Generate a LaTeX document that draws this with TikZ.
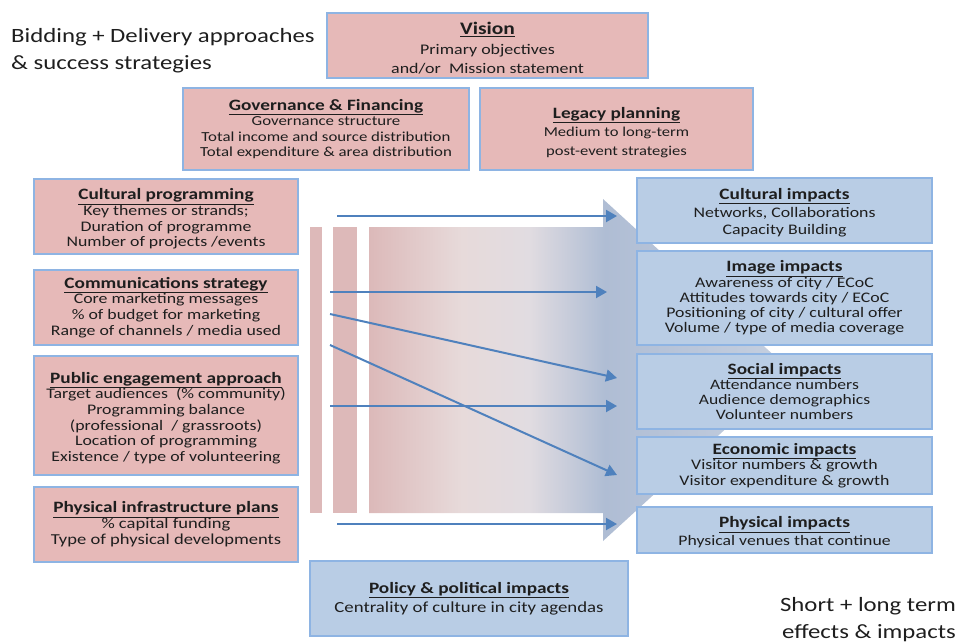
\documentclass[tikz,border=0pt]{standalone}
\usepackage{fontspec}
\setmainfont{Carlito}[FakeStretch=1.22]
\usetikzlibrary{arrows.meta}
\definecolor{pinkfill}{HTML}{E6B9B8}
\definecolor{bluefill}{HTML}{B9CDE5}
\definecolor{boxedge}{HTML}{8EB4E3}
\definecolor{arrowblue}{HTML}{4F81BD}
\definecolor{txt}{HTML}{1E1E1E}
\definecolor{barpink}{HTML}{DDB9B9}
\definecolor{c0}{HTML}{DCB9B9}
\definecolor{c1}{HTML}{E7DADA}
\definecolor{c2}{HTML}{E1DCE1}
\definecolor{c3}{HTML}{AFBDD4}
\definecolor{c4}{HTML}{C6D0E0}
\pgfdeclarehorizontalshading{flowshade}{100bp}{color(0bp)=(c0); color(25bp)=(c0); color(36bp)=(c1); color(44bp)=(c2); color(53bp)=(c3); color(75bp)=(c4); color(100bp)=(c4)}
\newcommand\boxtitle[1]{{\fontsize{15.8}{15}\selectfont\textbf{\underline{#1}}}}
\newcommand\boxfont[2]{\fontsize{#1}{#2}\selectfont}
\newcommand\lowerby[1]{\rule{0pt}{#1}}
\tikzset{
  box/.style={draw=boxedge, line width=1.4pt, inner sep=0pt, align=center, text=txt},
  pinkbox/.style={box, fill=pinkfill},
  bluebox/.style={box, fill=bluefill},
  leftcol/.style={pinkbox, minimum width=264pt},
  rightcol/.style={bluebox, minimum width=295pt},
  flow/.style={draw=arrowblue, line width=2pt, -{Triangle[length=11pt,width=12pt]}},
  bigtext/.style={inner sep=0pt, text=txt, font=\fontsize{20.3}{27}\selectfont}
}
\begin{document}
\begin{tikzpicture}[x=1pt,y=-1pt]
\useasboundingbox (0,0) rectangle (963,642);

% central flow graphic
\fill[barpink] (310,227) rectangle (322,513);
\fill[barpink] (333,227) rectangle (357,513);
\shade[shading=flowshade] (369,227) -- (603,227) -- (603,199) -- (790,370) -- (603,541) -- (603,513) -- (369,513) -- cycle;

% titles
\node[bigtext, anchor=north west, align=left] (lefttitle) at (11,28) {Bidding + Delivery approaches\\\& success strategies};
\node[bigtext, anchor=south east, align=right] (righttitle) at (956,641.5) {Short + long term\\effects \& impacts};

% top boxes
\node[pinkbox, minimum width=321pt, minimum height=65pt, font=\boxfont{14.7}{19.5}] (vision) at (487.5,45.5)
  {\lowerby{18.5pt}{\fontsize{17.6}{19.5}\selectfont\textbf{\underline{Vision}}}\\Primary objectives\\and/or\ \ Mission statement};
\node[pinkbox, minimum width=286pt, minimum height=82pt, font=\boxfont{13.8}{15.3}] (gov) at (326,129)
  {\boxtitle{Governance \& Financing}\\Governance structure\\Total income and source distribution\\Total expenditure \& area distribution};
\node[pinkbox, minimum width=273pt, minimum height=82pt, font=\boxfont{13.6}{18.5}] (legacy) at (616.5,129)
  {\lowerby{18pt}\boxtitle{Legacy planning}\\Medium to long-term\\post-event strategies};

% left column
\node[leftcol, minimum height=75pt, font=\boxfont{14.6}{15.7}] (cultprog) at (166,216.5)
  {\lowerby{16pt}\boxtitle{Cultural programming}\\Key themes or strands;\\Duration of programme\\Number of projects /events};
\node[leftcol, minimum height=75pt, font=\boxfont{14.6}{15.7}] (comms) at (166,307.5)
  {\boxtitle{Communications strategy}\\Core marketing messages\\\% of budget for marketing\\Range of channels / media used};
\node[leftcol, minimum height=119pt, font=\boxfont{14.6}{15.6}] (public) at (166,415.5)
  {\lowerby{16pt}\boxtitle{Public engagement approach}\\Target audiences\ \ (\% community)\\Programming balance\\(professional\ \ / grassroots)\\Location of programming\\Existence / type of volunteering};
\node[leftcol, minimum height=75pt, font=\boxfont{15.2}{16}] (infra) at (166,524.5)
  {\boxtitle{Physical infrastructure plans}\\\% capital funding\\Type of physical developments};

% right column
\node[rightcol, minimum height=65pt, font=\boxfont{14.6}{17.5}] (cultimp) at (784.5,210.5)
  {\lowerby{16pt}\boxtitle{Cultural impacts}\\Networks, Collaborations\\Capacity Building};
\node[rightcol, minimum height=94pt, font=\boxfont{14.6}{15.25}] (image) at (784.5,298)
  {\boxtitle{Image impacts}\\Awareness of city / ECoC\\Attitudes towards city / ECoC\\Positioning of city / cultural offer\\Volume / type of media coverage};
\node[rightcol, minimum height=75pt, font=\boxfont{14.4}{15.3}] (social) at (784.5,391.5)
  {\boxtitle{Social impacts}\\Attendance numbers\\Audience demographics\\Volunteer numbers};
\node[rightcol, minimum height=57pt, font=\boxfont{14.6}{15.5}] (econ) at (784.5,465.5)
  {\boxtitle{Economic impacts}\\Visitor numbers \& growth\\Visitor expenditure \& growth};
\node[rightcol, minimum height=46pt, font=\boxfont{14.5}{18}] (physimp) at (784.5,530)
  {\lowerby{16pt}\boxtitle{Physical impacts}\\Physical venues that continue};

% bottom box
\node[bluebox, minimum width=318pt, minimum height=75pt, font=\boxfont{15.4}{19}] (policy) at (469,598.5)
  {\boxtitle{Policy \& political impacts}\\Centrality of culture in city agendas};

% arrows
\coordinate (a1s) at (337,216); \coordinate (a1e) at (617,216);
\coordinate (a2s) at (330,292); \coordinate (a2e) at (607,292);
\coordinate (a3s) at (330,314); \coordinate (a3e) at (617,378);
\coordinate (a4s) at (330,345); \coordinate (a4e) at (617,475);
\coordinate (a5s) at (330,406); \coordinate (a5e) at (617,406);
\coordinate (a6s) at (337,524); \coordinate (a6e) at (617,524);
\draw[flow] (a1s) -- (a1e);
\draw[flow] (a2s) -- (a2e);
\draw[flow] (a3s) -- (a3e);
\draw[flow] (a4s) -- (a4e);
\draw[flow] (a5s) -- (a5e);
\draw[flow] (a6s) -- (a6e);
\end{tikzpicture}
\end{document}
